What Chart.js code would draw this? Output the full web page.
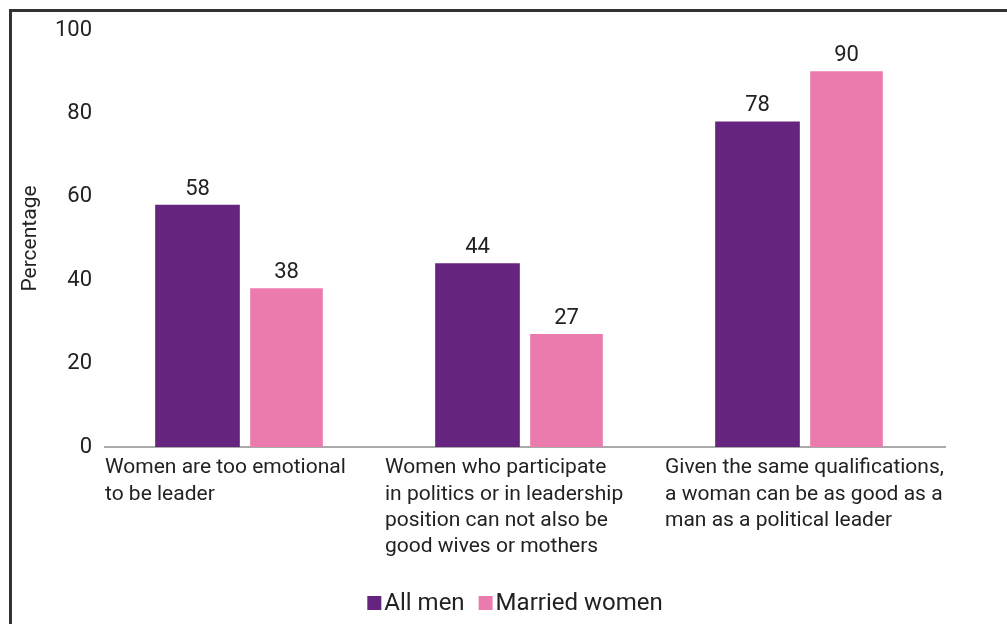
<!DOCTYPE html>
<html lang="en">
<head>
  <meta charset="UTF-8">
  <title>Attitudes on women leaders</title>
  <script src="https://cdn.jsdelivr.net/npm/chart.js"></script>
  <style>
    html, body { margin: 0; padding: 0; background: #fff; overflow: hidden; }
    .frame { position: absolute; left: 9px; top: 9px; width: 1100px; height: 700px; border: 3px solid #333; }
    .wrap { position: absolute; left: 0; top: 0; width: 1007px; height: 624px; }
  </style>
</head>
<body>
  <div class="frame"></div>
  <div class="wrap"><canvas id="grafico" width="1007" height="624"></canvas></div>

<script>
  const categorias = [
    ['Women are too emotional', 'to be leader'],
    ['Women who participate', 'in politics or in leadership', 'position can not also be', 'good wives or mothers'],
    ['Given the same qualifications,', 'a woman can be as good as a', 'man as a political leader']
  ];
  const allMen = [58, 44, 78];
  const marriedWomen = [38, 27, 90];
  const yTicks = [0, 20, 40, 60, 80, 100];

  const fonte = 'Roboto, "Noto Sans", sans-serif';

  // escreve o valor em cima de cada barra
  const rotulos = {
    id: 'rotulos',
    afterDatasetsDraw(chart) {
      const ctx = chart.ctx;
      ctx.save();
      ctx.font = '22px ' + fonte;
      ctx.fillStyle = '#222';
      ctx.textAlign = 'center';
      ctx.textBaseline = 'bottom';
      chart.data.datasets.forEach((ds, i) => {
        chart.getDatasetMeta(i).data.forEach((bar, j) => {
          ctx.fillText(ds.data[j], bar.x, bar.y - 5);
        });
      });
      ctx.restore();
    }
  };

  // legenda desenhada na mao (quadrado colado no texto)
  const legenda = {
    id: 'legenda',
    afterDraw(chart) {
      const ctx = chart.ctx;
      const ds = chart.data.datasets;
      ctx.save();
      ctx.font = '24px ' + fonte;
      ctx.textBaseline = 'middle';
      const box = 14, gap = 3, entre = 14;
      let total = 0;
      ds.forEach((d, i) => {
        total += box + gap + ctx.measureText(d.label).width + (i ? entre : 0);
      });
      let x = 515 - total / 2;
      const y = 603;
      ds.forEach((d, i) => {
        if (i) x += entre;
        ctx.fillStyle = d.backgroundColor;
        ctx.fillRect(x, y - 7, box, box);
        x += box + gap;
        ctx.fillStyle = '#222';
        ctx.fillText(d.label, x, y + 1);
        x += ctx.measureText(d.label).width;
      });
      ctx.restore();
    }
  };

  new Chart(document.getElementById('grafico'), {
    type: 'bar',
    data: {
      labels: categorias,
      datasets: [{
        label: 'All men',
        data: allMen,
        backgroundColor: '#65247f',
        barThickness: 95,
        maxBarThickness: 84
      }, {
        label: 'Married women',
        data: marriedWomen,
        backgroundColor: '#ec7bad',
        barThickness: 83,
        maxBarThickness: 72
      }]
    },
    options: {
      responsive: false,
      animation: false,
      layout: { padding: { left: 18, right: 62, top: 30, bottom: 50 } },
      plugins: {
        tooltip: { enabled: false },
        legend: { display: false }
      },
      scales: {
        x: {
          grid: { display: false, drawTicks: false },
          border: { display: true, color: '#aaa', width: 2 },
          ticks: {
            align: 'start',
            labelOffset: -140,
            padding: 8,
            color: '#222',
            maxRotation: 0,
            autoSkip: false,
            font: { family: fonte, size: 21, lineHeight: 1.25 }
          },
          afterFit(scale) {
            scale.height = 127;
            scale.paddingLeft = 0;
            scale.paddingRight = 0;
          }
        },
        y: {
          min: 0,
          max: 100,
          afterBuildTicks(scale) { scale.ticks = yTicks.map(v => ({ value: v })); },
          grid: { display: false, drawTicks: false },
          border: { display: false },
          ticks: {
            padding: 13,
            color: '#222',
            font: { family: fonte, size: 22 }
          },
          title: {
            display: true,
            text: 'Percentage',
            color: '#222',
            padding: 0,
            font: { family: fonte, size: 21 }
          },
          afterFit(scale) { scale.width = 87; }
        }
      }
    },
    plugins: [rotulos, legenda]
  });
</script>
</body>
</html>
